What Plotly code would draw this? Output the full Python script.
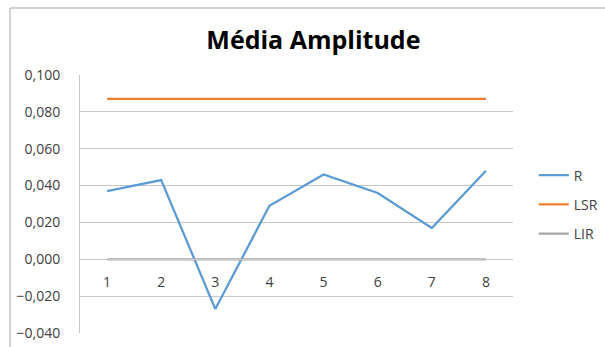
import plotly.graph_objects as go

# Sample number (x categories)
amostras = [1, 2, 3, 4, 5, 6, 7, 8]
# Mean range per sample
r_vals = [0.037, 0.043, -0.027, 0.029, 0.046, 0.036, 0.017, 0.048]
# Upper and lower control limits for the range chart
lsr_vals = [0.087] * 8
lir_vals = [0.0] * 8

y_ticks = [-0.04, -0.02, 0.0, 0.02, 0.04, 0.06, 0.08, 0.10]
y_min, y_max = -0.04, 0.10

FONT = "Open Sans, Liberation Sans, sans-serif"
GRID = "#c8c8c8"

fig = go.Figure()
fig.add_trace(go.Scatter(x=amostras, y=r_vals, name="R", mode="lines", legendgroup="r",
                         line=dict(color="#5b9bd5", width=2.25)))
fig.add_trace(go.Scatter(x=amostras, y=lsr_vals, name="LSR", mode="lines", legendgroup="lsr",
                         line=dict(color="#ed7d31", width=2.25)))
fig.add_trace(go.Scatter(x=amostras, y=lir_vals, name="LIR", mode="lines", legendgroup="lir",
                         line=dict(color="#a5a5a5", width=2.25)))

# category axis crosses the value axis at zero
zero_pos = (0 - y_min) / (y_max - y_min)

fig.update_layout(
    width=605, height=347,
    margin=dict(l=80, r=92, t=75, b=14, autoexpand=False),
    paper_bgcolor="white", plot_bgcolor="white",
    separators=", ",
    title=dict(text="<b>Média Amplitude</b>", x=0.518, xanchor="center",
               y=0.885, yanchor="middle",
               font=dict(family=FONT, size=25, color="#000000")),
    font=dict(family=FONT, size=14, color="#404040"),
    xaxis=dict(range=[0.5, 8.5], tickvals=amostras, ticktext=[str(a) for a in amostras],
               anchor="free", position=zero_pos, showline=True, linecolor=GRID,
               linewidth=1, showgrid=False, zeroline=False, ticks="", automargin=False,
               ticklabelstandoff=10, tickfont=dict(size=14, color="#404040")),
    yaxis=dict(range=[y_min, y_max], tickvals=y_ticks, tickformat=".3f",
               showgrid=True, gridcolor=GRID, gridwidth=1, zeroline=False,
               showline=True, linecolor=GRID, linewidth=1, ticks="", automargin=False,
               ticklabelstandoff=16, tickfont=dict(size=14, color="#404040")),
    legend=dict(x=1.048, y=0.672, xanchor="left", yanchor="top",
                traceorder="grouped", tracegroupgap=8,
                font=dict(family=FONT, size=14, color="#404040"),
                itemwidth=30, bgcolor="rgba(0,0,0,0)"),
    showlegend=True,
    shapes=[dict(type="rect", xref="paper", yref="paper",
                 x0=(10 - 80) / 433, x1=(640 - 80) / 433,
                 y0=(333 - 360) / 258, y1=(333 - 8) / 258,
                 line=dict(color="#a6a6a6", width=1), layer="below")],
)

fig.write_html("out.html")
